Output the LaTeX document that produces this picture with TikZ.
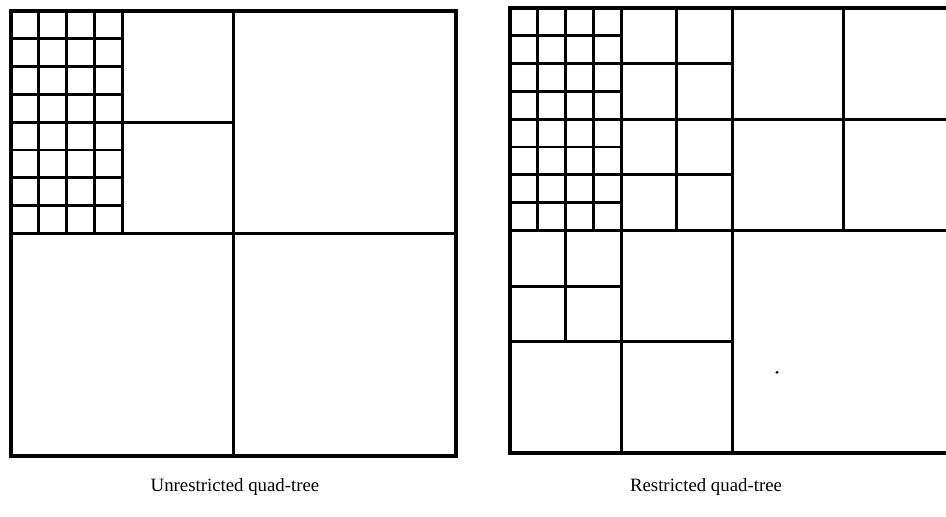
\documentclass[tikz,border=0pt]{standalone}
\usepackage{fontspec}
\setmainfont{Liberation Serif}

\begin{document}
\begin{tikzpicture}[x=0.5pt, y=-0.5pt,
    frame/.style={line width=2.2pt, line join=miter},
    cell/.style={line width=1.4pt},
    caption/.style={font=\fontsize{9.4pt}{11pt}\selectfont}]

            % Page size
            \useasboundingbox (0,0) rectangle (946,516);

            % Unrestricted quad-tree
            \begin{scope}[shift={(11,11)}, x=13.906pt, y=-13.906pt]
                % Quadrants
                \draw[cell] (8,0) -- (8,16);
                \draw[cell] (0,8) -- (16,8);
                % Top-left quadrant
                \draw[cell] (4,0) -- (4,8);
                \draw[cell] (4,4) -- (8,4);
                % Finest cells
                \foreach \i in {1,2,3} \draw[cell] (\i,0) -- (\i,8);
                \foreach \j in {1,...,7} \draw[cell] (0,\j) -- (4,\j);
                % Frame
                \draw[frame] (0,0) rectangle (16,16);
            \end{scope}

            % Restricted quad-tree
            \begin{scope}[shift={(510,8)}, x=13.906pt, y=-13.906pt]
                % Quadrants
                \draw[cell] (8,0) -- (8,16);
                \draw[cell] (0,8) -- (16,8);
                % Top-right quadrant
                \draw[cell] (12,0) -- (12,8);
                \draw[cell] (8,4) -- (16,4);
                % Top-left quadrant
                \draw[cell] (4,0) -- (4,16);
                \draw[cell] (6,0) -- (6,8);
                \foreach \j in {2,4,6} \draw[cell] (4,\j) -- (8,\j);
                % Finest cells
                \draw[cell] (2,0) -- (2,12);
                \foreach \i in {1,3} \draw[cell] (\i,0) -- (\i,8);
                \foreach \j in {1,...,7} \draw[cell] (0,\j) -- (4,\j);
                % Bottom-left quadrant
                \draw[cell] (0,12) -- (8,12);
                \draw[cell] (0,10) -- (4,10);
                % Speck
                \fill (9.6,13.1) circle (0.8pt);
                % Frame
                \draw[frame] (0,0) rectangle (16,16);
            \end{scope}

            % Captions
            \node[caption] (capleft) at (235,487) {Unrestricted quad-tree};
            \node[caption] (capright) at (706,487) {Restricted quad-tree};

\end{tikzpicture}
\end{document}
